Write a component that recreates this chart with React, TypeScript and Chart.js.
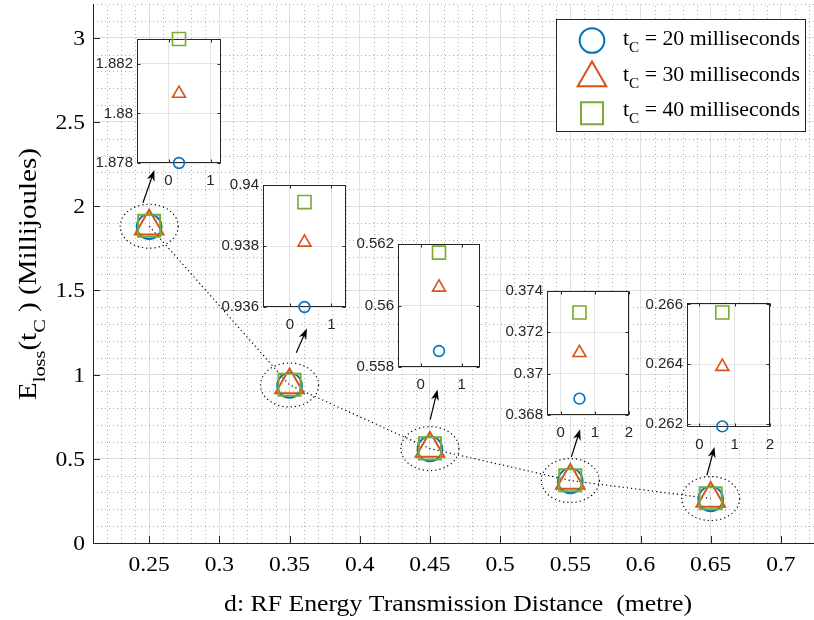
import React, { useEffect, useRef } from "react";
import { Chart, registerables } from "chart.js";

Chart.register(...registerables);

// Transmission distance (metre) for each measured point
const distances = [0.25, 0.35, 0.45, 0.55, 0.65];
// Energy loss (millijoules) for each charging time
const loss20 = [1.878, 0.936, 0.55852, 0.36879, 0.26192];
const loss30 = [1.8808, 0.93812, 0.56059, 0.37101, 0.26392];
const loss40 = [1.883, 0.93944, 0.56172, 0.37296, 0.26573];
const chargeTimes = ["20", "30", "40"];

const xTicks = [0.25, 0.3, 0.35, 0.4, 0.45, 0.5, 0.55, 0.6, 0.65, 0.7];
const yTicks = [0, 0.5, 1, 1.5, 2, 2.5, 3];

// Callout arrows, in data units of the main axes: tail -> head
const arrowTailX = [0.2456, 0.3548, 0.4502, 0.5508, 0.6473];
const arrowTailY = [2.02, 1.129, 0.733, 0.511, 0.4023];
const arrowHeadX = [0.2537, 0.3624, 0.4554, 0.557, 0.6527];
const arrowHeadY = [2.2145, 1.274, 0.9115, 0.6756, 0.5704];

// Zoomed views around each distance
const insetXMin = [-0.75, -0.65, -0.55, -0.4, -0.35];
const insetXMax = [1.25, 1.35, 1.45, 2, 2];
const insetXTicks = [[0, 1], [0, 1], [0, 1], [0, 1, 2], [0, 1, 2]];
const insetYMin = [1.878, 0.936, 0.558, 0.368, 0.2619];
const insetYMax = [1.883, 0.94, 0.562, 0.374, 0.26605];
const insetYTicks = [
  [1.878, 1.88, 1.882],
  [0.936, 0.938, 0.94],
  [0.558, 0.56, 0.562],
  [0.368, 0.37, 0.372, 0.374],
  [0.262, 0.264, 0.266],
];

// Placement of each zoomed plot box on the page (px)
const insetBoxes = [
  { l: 137, t: 39, w: 84, h: 124 },
  { l: 263, t: 185, w: 83, h: 122 },
  { l: 398, t: 244, w: 82, h: 123 },
  { l: 547, t: 291, w: 82, h: 124 },
  { l: 687, t: 303, w: 83, h: 124 },
];

const BLUE = "#0072BD";
const ORANGE = "#D95319";
const GREEN = "#77AC30";
const AXIS = "#262626";
const SERIF = '"Liberation Serif", "Times New Roman", serif';
const SANS = '"Liberation Sans", Arial, sans-serif';

const MAIN_W = 830;
const MAIN_H = 620;

type Part = { text: string; sub?: boolean };

function partsWidth(ctx: CanvasRenderingContext2D, parts: Part[], size: number) {
  let w = 0;
  for (const p of parts) {
    ctx.font = `${p.sub ? size * 0.7 : size}px ${SERIF}`;
    w += ctx.measureText(p.text).width;
  }
  return w;
}

function drawParts(ctx: CanvasRenderingContext2D, parts: Part[], x: number, y: number, size: number) {
  let cx = x;
  ctx.textAlign = "left";
  ctx.textBaseline = "alphabetic";
  for (const p of parts) {
    const s = p.sub ? size * 0.7 : size;
    ctx.font = `${s}px ${SERIF}`;
    ctx.fillText(p.text, cx, p.sub ? y + size * 0.36 : y);
    cx += ctx.measureText(p.text).width;
  }
}

// Text with a horizontal widening factor sx, anchored left/center/right at (x, y baseline)
function drawText(
  ctx: CanvasRenderingContext2D,
  parts: Part[],
  x: number,
  y: number,
  size: number,
  sx: number,
  align: "left" | "center" | "right"
) {
  const w = partsWidth(ctx, parts, size) * sx;
  const start = align === "left" ? x : align === "center" ? x - w / 2 : x - w;
  ctx.save();
  ctx.translate(start, y);
  ctx.scale(sx, 1);
  drawParts(ctx, parts, 0, 0, size);
  ctx.restore();
}

function drawMarker(ctx: CanvasRenderingContext2D, style: string, x: number, y: number, r: number) {
  ctx.beginPath();
  if (style === "circle") {
    ctx.arc(x, y, r, 0, Math.PI * 2);
  } else if (style === "triangle") {
    for (let k = 0; k < 3; k++) {
      const a = (k * 2 * Math.PI) / 3;
      const px = x + Math.sin(a) * r;
      const py = y - Math.cos(a) * r;
      if (k === 0) ctx.moveTo(px, py);
      else ctx.lineTo(px, py);
    }
    ctx.closePath();
  } else {
    const s = Math.SQRT1_2 * r;
    ctx.rect(x - s, y - s, 2 * s, 2 * s);
  }
  ctx.stroke();
}

function drawArrow(ctx: CanvasRenderingContext2D, x1: number, y1: number, x2: number, y2: number) {
  const dx = x2 - x1;
  const dy = y2 - y1;
  const len = Math.hypot(dx, dy);
  const ux = dx / len;
  const uy = dy / len;
  const hl = 11;
  const hw = 4;
  ctx.strokeStyle = "#000";
  ctx.fillStyle = "#000";
  ctx.lineWidth = 1.2;
  ctx.setLineDash([]);
  ctx.beginPath();
  ctx.moveTo(x1, y1);
  ctx.lineTo(x2 - ux * hl * 0.6, y2 - uy * hl * 0.6);
  ctx.stroke();
  ctx.beginPath();
  ctx.moveTo(x2, y2);
  ctx.lineTo(x2 - ux * hl - uy * hw, y2 - uy * hl + ux * hw);
  ctx.lineTo(x2 - ux * hl * 0.7, y2 - uy * hl * 0.7);
  ctx.lineTo(x2 - ux * hl + uy * hw, y2 - uy * hl - ux * hw);
  ctx.closePath();
  ctx.fill();
}

const TICK_SIZE = 21;
const TICK_SX = 1.12;

const mainDecor = {
  id: "mainDecor",
  beforeDatasetsDraw(chart: any) {
    const { ctx, chartArea: a, scales } = chart;
    const xs = scales.x;
    const ys = scales.y;
    ctx.save();
    // minor grid
    ctx.strokeStyle = "rgba(0,0,0,0.3)";
    ctx.lineWidth = 1;
    ctx.setLineDash([1, 3]);
    for (let k = 21; k <= 75; k++) {
      if (k % 5 === 0) continue;
      const px = Math.round(xs.getPixelForValue(k / 100)) + 0.5;
      if (px > a.right) break;
      ctx.beginPath();
      ctx.moveTo(px, a.bottom);
      ctx.lineTo(px, a.top);
      ctx.stroke();
    }
    for (let k = 1; k <= 32; k++) {
      if (k % 5 === 0) continue;
      const py = Math.round(ys.getPixelForValue(k / 10)) + 0.5;
      ctx.beginPath();
      ctx.moveTo(a.left, py);
      ctx.lineTo(a.right, py);
      ctx.stroke();
    }
    // inward tick marks
    ctx.setLineDash([]);
    ctx.strokeStyle = AXIS;
    for (const v of xTicks) {
      const px = Math.round(xs.getPixelForValue(v)) + 0.5;
      ctx.beginPath();
      ctx.moveTo(px, a.bottom);
      ctx.lineTo(px, a.bottom - 7);
      ctx.stroke();
    }
    for (const v of yTicks) {
      const py = Math.round(ys.getPixelForValue(v)) + 0.5;
      ctx.beginPath();
      ctx.moveTo(a.left, py);
      ctx.lineTo(a.left + 7, py);
      ctx.stroke();
    }
    // dotted rings around each group of points
    ctx.strokeStyle = "#000";
    ctx.lineWidth = 1.2;
    ctx.setLineDash([1.2, 3]);
    distances.forEach((d, i) => {
      const cx = xs.getPixelForValue(d);
      const cy = ys.getPixelForValue(loss30[i]);
      ctx.beginPath();
      ctx.ellipse(cx, cy, 29, 22, 0, 0, Math.PI * 2);
      ctx.stroke();
    });
    ctx.restore();
  },
  afterDraw(chart: any) {
    const { ctx, chartArea: a, scales } = chart;
    const xs = scales.x;
    const ys = scales.y;
    ctx.save();

    // tick labels
    ctx.fillStyle = "#000";
    for (const v of xTicks) {
      drawText(ctx, [{ text: String(v) }], xs.getPixelForValue(v), a.bottom + 28, TICK_SIZE, TICK_SX, "center");
    }
    for (const v of yTicks) {
      drawText(ctx, [{ text: String(v) }], a.left - 8, ys.getPixelForValue(v) + 7, TICK_SIZE, TICK_SX, "right");
    }

    // callout arrows
    distances.forEach((_, i) => {
      drawArrow(
        ctx,
        xs.getPixelForValue(arrowTailX[i]),
        ys.getPixelForValue(arrowTailY[i]),
        xs.getPixelForValue(arrowHeadX[i]),
        ys.getPixelForValue(arrowHeadY[i])
      );
    });

    // legend
    const lx = 556.5;
    const ly = 19.5;
    const lw = 249;
    const lh = 112;
    ctx.fillStyle = "#fff";
    ctx.fillRect(lx, ly, lw, lh);
    ctx.strokeStyle = AXIS;
    ctx.lineWidth = 1;
    ctx.strokeRect(lx, ly, lw, lh);
    const styles = ["circle", "triangle", "rect"];
    const colors = [BLUE, ORANGE, GREEN];
    const radii = [12.3, 16.5, 15.6];
    const markerY = [40.5, 78, 113.3];
    const baselines = [45, 80.5, 116];
    chargeTimes.forEach((t, i) => {
      ctx.strokeStyle = colors[i];
      ctx.lineWidth = 2;
      drawMarker(ctx, styles[i], 592, markerY[i], radii[i]);
      ctx.fillStyle = "#000";
      drawText(
        ctx,
        [{ text: "t" }, { text: "C", sub: true }, { text: ` = ${t} milliseconds` }],
        623,
        baselines[i],
        20,
        1.09,
        "left"
      );
    });

    // axis titles
    ctx.fillStyle = "#000";
    drawText(
      ctx,
      [{ text: "d: RF Energy Transmission Distance  (metre)" }],
      (a.left + a.right) / 2,
      611,
      23,
      1.12,
      "center"
    );

    const yt: Part[] = [
      { text: "E" },
      { text: "loss", sub: true },
      { text: "(t" },
      { text: "C", sub: true },
      { text: " ) (Millijoules)" },
    ];
    const ySize = 25;
    const ySx = 252 / partsWidth(ctx, yt, ySize);
    ctx.translate(36, 274);
    ctx.rotate(-Math.PI / 2);
    drawText(ctx, yt, 0, 0, ySize, ySx, "center");
    ctx.restore();
  },
};

function mainConfig(): any {
  const pts = (vals: number[]) => distances.map((d, i) => ({ x: d, y: vals[i] }));
  return {
    type: "scatter",
    data: {
      datasets: [
        {
          data: pts(loss40),
          pointStyle: "rect",
          pointRadius: 15.6,
          borderColor: GREEN,
          backgroundColor: "rgba(0,0,0,0)",
          borderWidth: 2,
          order: 1,
        },
        {
          data: pts(loss30),
          pointStyle: "triangle",
          pointRadius: 16.5,
          borderColor: ORANGE,
          backgroundColor: "rgba(0,0,0,0)",
          borderWidth: 2,
          order: 2,
        },
        {
          data: pts(loss20),
          pointStyle: "circle",
          pointRadius: 12.3,
          borderColor: BLUE,
          backgroundColor: "rgba(0,0,0,0)",
          borderWidth: 2,
          order: 3,
        },
        {
          data: pts(loss30),
          showLine: true,
          pointRadius: 0,
          borderColor: "#000",
          borderWidth: 1.2,
          borderDash: [1.2, 3],
          order: 4,
        },
      ],
    },
    options: {
      responsive: false,
      animation: false,
      events: [],
      layout: { autoPadding: false, padding: { left: 0, top: 4, right: 7, bottom: 0 } },
      plugins: { legend: { display: false }, tooltip: { enabled: false } },
      scales: {
        x: {
          type: "linear",
          min: 0.21,
          max: 0.73,
          afterBuildTicks: (s: any) => {
            s.ticks = xTicks.map((v) => ({ value: v }));
          },
          afterFit: (s: any) => {
            s.height = 77;
            s.paddingLeft = 0;
            s.paddingRight = 0;
          },
          grid: { color: "#e0e0e0", drawTicks: false },
          border: { color: AXIS, width: 1 },
          ticks: { display: false },
        },
        y: {
          min: 0,
          max: 3.2,
          afterBuildTicks: (s: any) => {
            s.ticks = yTicks.map((v) => ({ value: v }));
          },
          afterFit: (s: any) => {
            s.width = 93;
            s.paddingTop = 0;
            s.paddingBottom = 0;
          },
          grid: { color: "#e0e0e0", drawTicks: false },
          border: { color: AXIS, width: 1 },
          ticks: { display: false },
        },
      },
    },
    plugins: [mainDecor],
  };
}

const Y_W = 55;
const PAD_T = 10;
const PAD_R = 10;
const X_H = 30;

const insetDecor = {
  id: "insetDecor",
  beforeDraw(chart: any) {
    const { ctx, chartArea: a } = chart;
    ctx.save();
    ctx.fillStyle = "#fff";
    ctx.fillRect(a.left, a.top, a.right - a.left, a.bottom - a.top);
    ctx.restore();
  },
  beforeDatasetsDraw(chart: any) {
    const { ctx, chartArea: a, scales } = chart;
    ctx.save();
    ctx.strokeStyle = AXIS;
    ctx.lineWidth = 1;
    const l = Math.round(a.left) + 0.5;
    const r = Math.round(a.right) - 0.5;
    const t = Math.round(a.top) + 0.5;
    const b = Math.round(a.bottom) - 0.5;
    ctx.strokeRect(l, t, r - l, b - t);
    for (const tk of scales.x.ticks) {
      const px = Math.round(scales.x.getPixelForValue(tk.value)) + 0.5;
      ctx.beginPath();
      ctx.moveTo(px, b);
      ctx.lineTo(px, b - 3);
      ctx.moveTo(px, t);
      ctx.lineTo(px, t + 3);
      ctx.stroke();
    }
    for (const tk of scales.y.ticks) {
      const py = Math.round(scales.y.getPixelForValue(tk.value)) + 0.5;
      ctx.beginPath();
      ctx.moveTo(l, py);
      ctx.lineTo(l + 3, py);
      ctx.moveTo(r, py);
      ctx.lineTo(r - 3, py);
      ctx.stroke();
    }
    ctx.restore();
  },
};

function insetConfig(i: number): any {
  const d = distances[i];
  const mk = (val: number, style: string, r: number, color: string) => ({
    data: [{ x: d, y: val }],
    pointStyle: style,
    pointRadius: r,
    borderColor: color,
    backgroundColor: "rgba(0,0,0,0)",
    borderWidth: 1.6,
    clip: false,
  });
  return {
    type: "scatter",
    data: {
      datasets: [
        mk(loss40[i], "rect", 9.2, GREEN),
        mk(loss30[i], "triangle", 7.5, ORANGE),
        mk(loss20[i], "circle", 5.4, BLUE),
      ],
    },
    options: {
      responsive: false,
      animation: false,
      events: [],
      layout: { autoPadding: false, padding: { left: 0, top: PAD_T, right: PAD_R, bottom: 0 } },
      plugins: { legend: { display: false }, tooltip: { enabled: false } },
      scales: {
        x: {
          type: "linear",
          min: insetXMin[i],
          max: insetXMax[i],
          afterBuildTicks: (s: any) => {
            s.ticks = insetXTicks[i].map((v) => ({ value: v }));
          },
          afterFit: (s: any) => {
            s.height = X_H;
            s.paddingLeft = 0;
            s.paddingRight = 0;
          },
          grid: { color: "#e3e3e3", drawTicks: false },
          border: { display: false },
          ticks: {
            padding: 9,
            maxRotation: 0,
            autoSkip: false,
            color: AXIS,
            font: { family: SANS, size: 15 },
            callback: (v: number) => String(v),
          },
        },
        y: {
          min: insetYMin[i],
          max: insetYMax[i],
          afterBuildTicks: (s: any) => {
            s.ticks = insetYTicks[i].map((v) => ({ value: v }));
          },
          afterFit: (s: any) => {
            s.width = Y_W;
            s.paddingTop = 0;
            s.paddingBottom = 0;
          },
          grid: { color: "#e3e3e3", drawTicks: false },
          border: { display: false },
          ticks: {
            padding: 4,
            color: AXIS,
            font: { family: SANS, size: 15 },
            callback: (v: number) => String(Number(v.toFixed(3))),
          },
        },
      },
    },
    plugins: [insetDecor],
  };
}

export default function App() {
  const mainRef = useRef<HTMLCanvasElement | null>(null);
  const insetRefs = useRef<(HTMLCanvasElement | null)[]>([]);

  useEffect(() => {
    const charts: Chart[] = [];
    if (mainRef.current) charts.push(new Chart(mainRef.current, mainConfig()));
    insetBoxes.forEach((_, i) => {
      const el = insetRefs.current[i];
      if (el) charts.push(new Chart(el, insetConfig(i)));
    });
    return () => charts.forEach((c) => c.destroy());
  }, []);

  return (
    <div
      style={{
        position: "fixed",
        left: 0,
        top: 0,
        width: 814,
        height: 620,
        overflow: "hidden",
        background: "#fff",
      }}
    >
      <canvas
        ref={mainRef}
        width={MAIN_W}
        height={MAIN_H}
        style={{ position: "absolute", left: 0, top: 0, width: MAIN_W, height: MAIN_H }}
      />
      {insetBoxes.map((b, i) => {
        const w = Y_W + b.w + PAD_R;
        const h = PAD_T + b.h + X_H;
        return (
          <canvas
            key={i}
            ref={(el) => {
              insetRefs.current[i] = el;
            }}
            width={w}
            height={h}
            style={{ position: "absolute", left: b.l - Y_W, top: b.t - PAD_T, width: w, height: h }}
          />
        );
      })}
    </div>
  );
}
